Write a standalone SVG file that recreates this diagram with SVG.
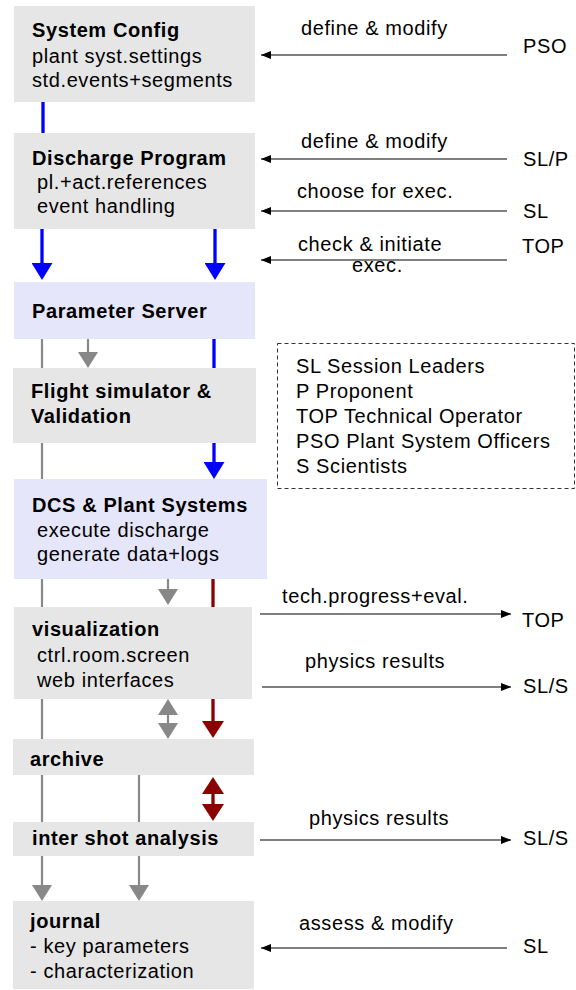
<svg xmlns="http://www.w3.org/2000/svg" width="576" height="990" viewBox="0 0 576 990">
<style>
text{font-family:"Liberation Sans",Arial,Helvetica,sans-serif;font-size:20px;letter-spacing:0.6px;fill:#000}
.b{font-weight:bold}
.g{fill:#e6e6e6}
.l{fill:#e6e6fa}
.bl{stroke:#0000ff;stroke-width:3.3;fill:none}
.gr{stroke:#888;stroke-width:2.2;fill:none}
.rd{stroke:#8b0000;stroke-width:3.3;fill:none}
.k{stroke:#000;stroke-width:1.1;fill:none}
</style>
<defs>
<marker id="ab" markerUnits="userSpaceOnUse" viewBox="0 0 17 21" markerWidth="17" markerHeight="21" refX="9" refY="10.5" orient="auto"><path d="M0,0 L17,10.5 L0,21 z" fill="#0000ff"/></marker>
<marker id="ag" markerUnits="userSpaceOnUse" viewBox="0 0 16 20" markerWidth="16" markerHeight="20" refX="8" refY="10" orient="auto-start-reverse"><path d="M0,0 L16,10 L0,20 z" fill="#888"/></marker>
<marker id="ar" markerUnits="userSpaceOnUse" viewBox="0 0 17 22" markerWidth="17" markerHeight="22" refX="9" refY="11" orient="auto-start-reverse"><path d="M0,0 L17,11 L0,22 z" fill="#8b0000"/></marker>
<marker id="ak" markerUnits="userSpaceOnUse" viewBox="0 0 10 8" markerWidth="10" markerHeight="8" refX="10" refY="4" orient="auto"><path d="M0,0 L10,4 L0,8 z" fill="#000"/></marker>
</defs>

<g id="connectors">
<line class="bl" x1="43" y1="102" x2="43" y2="133"/>
<line class="bl" x1="42" y1="229" x2="42" y2="272" marker-end="url(#ab)"/>
<line class="bl" x1="215" y1="229" x2="215" y2="272" marker-end="url(#ab)"/>
<line class="bl" x1="214" y1="339" x2="214" y2="368"/>
<line class="bl" x1="214" y1="443" x2="214" y2="471" marker-end="url(#ab)"/>

<line class="gr" x1="42" y1="339" x2="42" y2="368"/>
<line class="gr" x1="42" y1="443" x2="42" y2="479"/>
<line class="gr" x1="42" y1="579" x2="42" y2="607"/>
<line class="gr" x1="42" y1="699" x2="42" y2="739"/>
<line class="gr" x1="42" y1="775" x2="42" y2="822"/>
<line class="gr" x1="42" y1="856" x2="42" y2="893" marker-end="url(#ag)"/>
<line class="gr" x1="88" y1="339" x2="88" y2="360" marker-end="url(#ag)"/>
<line class="gr" x1="168" y1="579" x2="168" y2="597" marker-end="url(#ag)"/>
<line class="gr" x1="168" y1="707" x2="168" y2="731" marker-start="url(#ag)" marker-end="url(#ag)"/>
<line class="gr" x1="139" y1="775" x2="139" y2="822"/>
<line class="gr" x1="139" y1="856" x2="139" y2="893" marker-end="url(#ag)"/>

<line class="rd" x1="213" y1="579" x2="213" y2="607"/>
<line class="rd" x1="213" y1="699" x2="213" y2="730" marker-end="url(#ar)"/>
<line class="rd" x1="213" y1="785" x2="213" y2="813" marker-start="url(#ar)" marker-end="url(#ar)"/>

<line class="k" x1="507" y1="55" x2="261" y2="55" marker-end="url(#ak)"/>
<line class="k" x1="507" y1="159" x2="261" y2="159" marker-end="url(#ak)"/>
<line class="k" x1="507" y1="211" x2="261" y2="211" marker-end="url(#ak)"/>
<line class="k" x1="507" y1="260" x2="261" y2="260" marker-end="url(#ak)"/>
<line class="k" x1="260" y1="614" x2="511" y2="614" marker-end="url(#ak)"/>
<line class="k" x1="262" y1="687" x2="511" y2="687" marker-end="url(#ak)"/>
<line class="k" x1="260" y1="840" x2="511" y2="840" marker-end="url(#ak)"/>
<line class="k" x1="507" y1="948" x2="261" y2="948" marker-end="url(#ak)"/>

<text x="301" y="35">define &amp; modify</text>
<text x="523" y="53">PSO</text>
<text x="301" y="148">define &amp; modify</text>
<text x="523" y="166">SL/P</text>
<text x="297" y="198">choose for exec.</text>
<text x="523" y="218">SL</text>
<text x="298" y="251">check &amp; initiate</text>
<text x="352" y="272">exec.</text>
<text x="522" y="253">TOP</text>
<text x="282" y="603">tech.progress+eval.</text>
<text x="522" y="627">TOP</text>
<text x="305" y="668">physics results</text>
<text x="523" y="693">SL/S</text>
<text x="309" y="825">physics results</text>
<text x="523" y="845">SL/S</text>
<text x="299" y="930">assess &amp; modify</text>
<text x="523" y="953">SL</text>
</g>

<g id="system-config">
<rect class="g" x="14" y="6" width="241" height="96"/>
<text class="b" x="32" y="37">System Config</text>
<text x="32" y="63">plant syst.settings</text>
<text x="32" y="87">std.events+segments</text>
</g>
<g id="discharge-program">
<rect class="g" x="14" y="133" width="241" height="96"/>
<text class="b" x="32" y="165">Discharge Program</text>
<text x="37" y="189">pl.+act.references</text>
<text x="37" y="213">event handling</text>
</g>
<g id="parameter-server">
<rect class="l" x="14" y="282" width="241" height="57"/>
<text class="b" x="32" y="318">Parameter Server</text>
</g>
<g id="flight-simulator">
<rect class="g" x="13" y="368" width="243" height="75"/>
<text class="b" x="31" y="398">Flight simulator &amp;</text>
<text class="b" x="31" y="423">Validation</text>
</g>
<g id="dcs">
<rect class="l" x="14" y="479" width="253" height="100"/>
<text class="b" x="32" y="512">DCS &amp; Plant Systems</text>
<text x="37" y="537">execute discharge</text>
<text x="37" y="561">generate data+logs</text>
</g>
<g id="visualization">
<rect class="g" x="14" y="607" width="238" height="92"/>
<text class="b" x="32" y="636">visualization</text>
<text x="37" y="662">ctrl.room.screen</text>
<text x="37" y="687">web interfaces</text>
</g>
<g id="archive">
<rect class="g" x="13" y="739" width="241" height="36"/>
<text class="b" x="30" y="766">archive</text>
</g>
<g id="inter-shot-analysis">
<rect class="g" x="13" y="822" width="241" height="34"/>
<text class="b" x="32" y="845">inter shot analysis</text>
</g>
<g id="journal">
<rect class="g" x="13" y="901" width="241" height="88"/>
<text class="b" x="30" y="928">journal</text>
<text x="30" y="953">- key parameters</text>
<text x="30" y="978">- characterization</text>
</g>
<g id="legend">
<rect x="277.5" y="343.5" width="297" height="145" fill="none" stroke="#333" stroke-width="1" stroke-dasharray="4,3"/>
<text x="296" y="373">SL Session Leaders</text>
<text x="296" y="398">P Proponent</text>
<text x="296" y="423">TOP Technical Operator</text>
<text x="296" y="448">PSO Plant System Officers</text>
<text x="296" y="473">S Scientists</text>
</g>
</svg>
